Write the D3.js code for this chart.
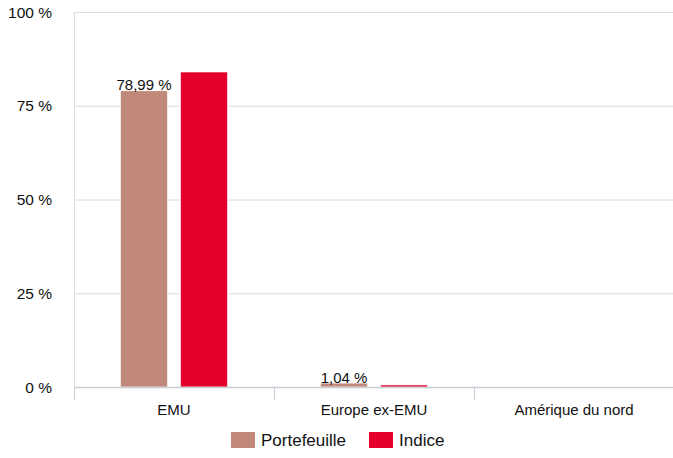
<!DOCTYPE html>
<html>
<head>
<meta charset="utf-8">
<script src="https://cdn.jsdelivr.net/npm/d3@7"></script>
<style>
  body { margin: 0; background: #fff; }
  svg { display: block; font-family: "Liberation Sans", Arial, sans-serif; }
</style>
</head>
<body>
<svg width="673" height="458"></svg>
<script>
const categories = ['EMU', 'Europe ex-EMU', 'Amérique du nord'];
const seriesNames = ['Portefeuille', 'Indice'];
const portefeuille = [78.99, 1.04, 0];
const indice = [84.0, 0.55, 0];
const labels = ['78,99 %', '1,04 %', null];
const yTicks = [0, 25, 50, 75, 100];

const W = 673, H = 458;
const LEFT = 74, RIGHT = 674, TOP = 12, BOTTOM = 387;
const COLORS = ['#c1897a', '#e4002b'];
const GRID = '#dcdcdc', AXIS = '#c8ccd4';

const svg = d3.select('svg');

const x = d3.scaleBand().domain(categories).range([LEFT, RIGHT]);
const xs = d3.scaleBand().domain(seriesNames).range([46.5, 153.5]).paddingInner(0.217);
const y = d3.scaleLinear().domain([0, 100]).range([BOTTOM, TOP]);

// Grille
svg.append('g').selectAll('line')
    .data(yTicks.filter(d => d > 0))
    .join('line')
    .attr('x1', LEFT).attr('x2', W)
    .attr('y1', d => y(d) + 0.5).attr('y2', d => y(d) + 0.5)
    .attr('stroke', GRID);

svg.append('line')
    .attr('x1', LEFT + 0.5).attr('x2', LEFT + 0.5)
    .attr('y1', TOP).attr('y2', BOTTOM)
    .attr('stroke', GRID);

// Étiquettes Y
svg.append('g').selectAll('text')
    .data(yTicks)
    .join('text')
    .attr('x', 52)
    .attr('y', d => y(d) + 5.5)
    .attr('text-anchor', 'end')
    .attr('font-size', 15.5)
    .attr('fill', '#111')
    .text(d => d + ' %');

// Barres
const data = categories.map((c, i) => [portefeuille[i], indice[i]]);
const groups = svg.append('g').selectAll('g')
    .data(data)
    .join('g')
    .attr('transform', (d, i) => `translate(${x(categories[i])},0)`);

groups.selectAll('rect')
    .data(d => d.map((v, j) => ({v, j})))
    .join('rect')
    .attr('x', d => xs(seriesNames[d.j]))
    .attr('width', xs.bandwidth())
    .attr('y', d => y(d.v))
    .attr('height', d => BOTTOM - y(d.v))
    .attr('fill', d => COLORS[d.j])
    .attr('stroke', '#fff')
    .attr('stroke-width', 0.6);

// Valeurs
svg.append('g').selectAll('text')
    .data(labels.map((l, i) => ({l, i})).filter(d => d.l))
    .join('text')
    .attr('x', d => x(categories[d.i]) + xs(seriesNames[0]) + xs.bandwidth() / 2)
    .attr('y', d => y(portefeuille[d.i]) - 0.5)
    .attr('text-anchor', 'middle')
    .attr('font-size', 15)
    .attr('fill', '#111')
    .text(d => d.l);

// Axe X
svg.append('line')
    .attr('x1', LEFT).attr('x2', W)
    .attr('y1', BOTTOM + 0.5).attr('y2', BOTTOM + 0.5)
    .attr('stroke', AXIS).attr('stroke-width', 1.5);

svg.append('g').selectAll('line')
    .data(categories)
    .join('line')
    .attr('x1', d => x(d) + 0.5).attr('x2', d => x(d) + 0.5)
    .attr('y1', BOTTOM).attr('y2', 400)
    .attr('stroke', AXIS);

svg.append('g').selectAll('text')
    .data(categories)
    .join('text')
    .attr('x', d => x(d) + x.bandwidth() / 2)
    .attr('y', 415)
    .attr('text-anchor', 'middle')
    .attr('font-size', 15)
    .attr('fill', '#111')
    .text(d => d);

// Légende
const legendX = [231, 369];
const legend = svg.append('g').selectAll('g')
    .data(seriesNames)
    .join('g')
    .attr('transform', (d, i) => `translate(${legendX[i]},432)`);

legend.append('rect')
    .attr('width', 24).attr('height', 16)
    .attr('fill', (d, i) => COLORS[i]);

legend.append('text')
    .attr('x', 30).attr('y', 14)
    .attr('font-size', 17)
    .attr('fill', '#111')
    .text(d => d);
</script>
</body>
</html>
